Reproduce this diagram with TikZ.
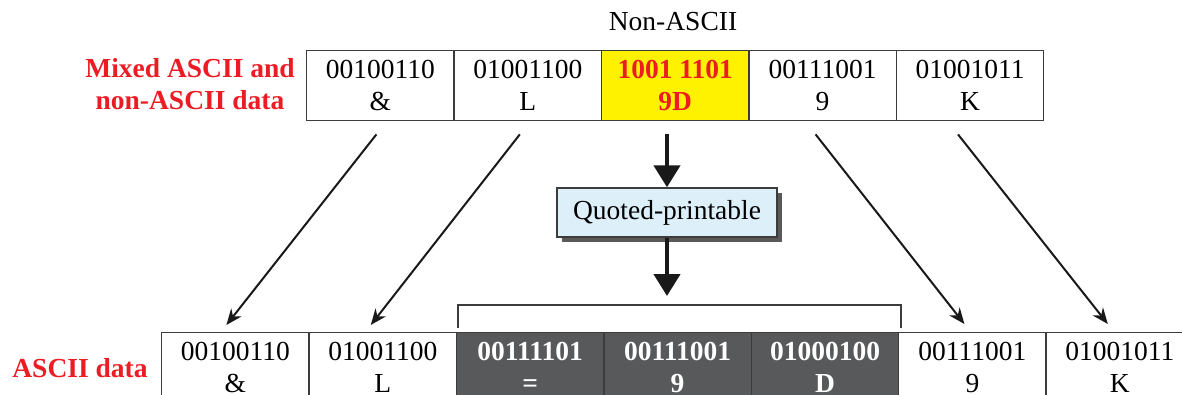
\documentclass[tikz,border=0pt]{standalone}
\usepackage{fontspec}
\setmainfont{Liberation Serif}
\usetikzlibrary{arrows.meta,calc}
\definecolor{lblred}{RGB}{237,28,36}
\definecolor{hiyellow}{RGB}{255,242,0}
\definecolor{darkcell}{RGB}{88,89,91}
\definecolor{edge}{RGB}{60,60,60}
\definecolor{qpfill}{RGB}{221,240,250}
\begin{document}
\begin{tikzpicture}[x=1pt,y=-1pt,
  txt/.style={font=\fontsize{27.5}{32}\selectfont},
  cell/.style={draw=edge, line width=1.4pt, minimum width=147.4pt,
    minimum height=70pt, inner sep=0pt, align=center, anchor=north west, txt},
  nonascii/.style={cell, fill=hiyellow, text=lblred, font=\fontsize{27.5}{32}\selectfont\bfseries},
  encoded/.style={cell, fill=darkcell, text=white, font=\fontsize{27.5}{32}\selectfont\bfseries},
  rowlabel/.style={align=center, text=lblred, font=\fontsize{27.5}{32}\selectfont\bfseries},
  qpbox/.style={draw=edge, line width=1.4pt, fill=qpfill, minimum width=220pt,
    minimum height=49pt, inner sep=0pt, txt},
  diag/.style={draw=black!90, line width=2pt, -{Stealth[length=16pt,width=13pt]}},
  bigarrow/.style={draw=black!90, line width=4.5pt, -{Triangle[length=22pt,width=26pt]}},
  bracket/.style={draw=edge, line width=1.4pt}
]
\useasboundingbox (0,0) rectangle (1182,394);
\clip (0,0) rectangle (1182,394);

% mixed input row
\node[txt] (na) at (673,22) {Non-ASCII};
\node[rowlabel] (lt) at (190,84) {Mixed ASCII and\\non-ASCII data};
\node[cell]     (t1) at (306,50)   {00100110\\\&};
\node[cell]     (t2) at (453.4,50) {01001100\\L};
\node[nonascii] (t3) at (600.8,50) {1001 1101\\9D};
\node[cell]     (t4) at (748.2,50) {00111001\\9};
\node[cell]     (t5) at (895.6,50) {01001011\\K};

% encoder with its drop shadow
\fill[black!65] (562,193) rectangle (782,242);
\node[qpbox] (qp) at (667,212.5) {Quoted-printable};

% ascii output row
\node[rowlabel] (lb) at (80,368) {ASCII data};
\node[cell]    (b1) at (161,332)    {00100110\\\&};
\node[cell]    (b2) at (308.4,332)  {01001100\\L};
\node[encoded] (b3) at (455.8,332)  {00111101\\=};
\node[encoded] (b4) at (603.2,332)  {00111001\\9};
\node[encoded] (b5) at (750.6,332)  {01000100\\D};
\node[cell]    (b6) at (898,332)    {00111001\\9};
\node[cell]    (b7) at (1045.4,332) {01001011\\K};

% bracket over the encoded bytes
\coordinate (brL) at (458,305);
\coordinate (brR) at (901,305);
\draw[bracket] ($(brL)+(0,23)$) -- (brL) -- (brR) -- ($(brR)+(0,23)$);

% pass-through bytes
\draw[diag] ([shift={(-4,13)}]t1.south) -- ([shift={(-9,-7)}]b1.north);
\draw[diag] ([shift={(-8,13)}]t2.south) -- ([shift={(-12,-7)}]b2.north);
\draw[diag] ([shift={(-7,13)}]t4.south) -- ([shift={(-8,-8)}]b6.north);
\draw[diag] ([shift={(-12,13)}]t5.south) -- ([shift={(-12,-8)}]b7.north);

% non-ASCII byte through the encoder
\draw[bigarrow] ([shift={(0,13)}]t3.south -| qp.north) -- (qp.north);
\coordinate (qpout) at (667,296);
\draw[bigarrow] (qp.south) -- (qpout);
\end{tikzpicture}
\end{document}
